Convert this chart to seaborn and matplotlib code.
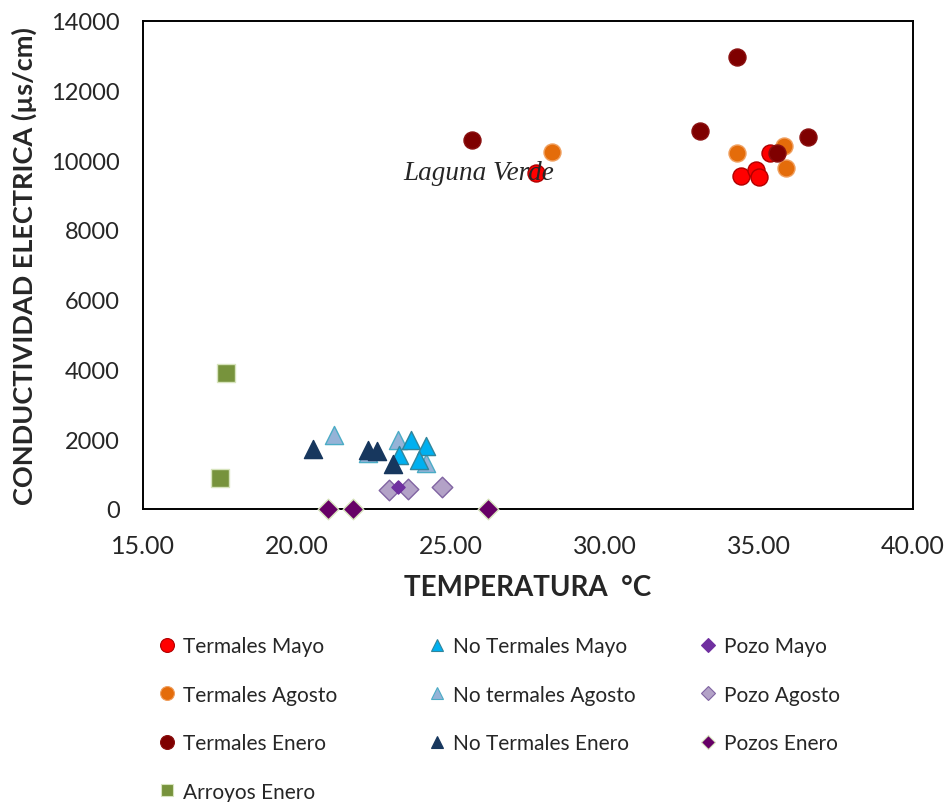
import matplotlib
matplotlib.use("Agg")
import matplotlib.pyplot as plt
from matplotlib.lines import Line2D
import seaborn as sns
import pandas as pd

# ---- data ----
termales_mayo_t = [27.77, 35.37, 34.40, 34.89, 35.00]
termales_mayo_c = [9630, 10200, 9560, 9710, 9510]

termales_agosto_t = [28.27, 34.29, 35.80, 35.89]
termales_agosto_c = [10240, 10210, 10420, 9770]

termales_enero_t = [25.68, 34.29, 33.08, 36.59, 35.58]
termales_enero_c = [10580, 12950, 10850, 10660, 10210]

arroyos_enero_t = [17.68, 17.49]
arroyos_enero_c = [3900, 890]

no_termales_mayo_t = [23.71, 24.18, 23.31, 23.96]
no_termales_mayo_c = [1980, 1815, 1560, 1400]

no_termales_agosto_t = [21.18, 22.31, 23.28, 24.18]
no_termales_agosto_c = [2110, 1600, 1980, 1330]

no_termales_enero_t = [20.50, 22.31, 22.60, 23.10]
no_termales_enero_c = [1710, 1700, 1670, 1290]

pozo_mayo_t = [23.28]
pozo_mayo_c = [620]

pozo_agosto_t = [22.99, 23.61, 24.69]
pozo_agosto_c = [550, 575, 620]

pozos_enero_t = [21.00, 21.80, 26.21]
pozos_enero_c = [0, 0, 0]

x_ticks = [15, 20, 25, 30, 35, 40]
y_ticks = [0, 2000, 4000, 6000, 8000, 10000, 12000, 14000]

# ---- styles ----
series = [
    ("Termales Mayo", termales_mayo_t, termales_mayo_c, "o", "#FF0000", "#B00000", 150),
    ("Termales Agosto", termales_agosto_t, termales_agosto_c, "o", "#E46C0A", "#F0A060", 150),
    ("Termales Enero", termales_enero_t, termales_enero_c, "o", "#7F0000", "#8A1010", 150),
    ("Arroyos Enero", arroyos_enero_t, arroyos_enero_c, "s", "#77933C", "#D7E4BD", 150),
    ("No Termales Mayo", no_termales_mayo_t, no_termales_mayo_c, "^", "#00B0F0", "#31859C", 170),
    ("No termales Agosto", no_termales_agosto_t, no_termales_agosto_c, "^", "#95B3D7", "#4BACC6", 170),
    ("No Termales Enero", no_termales_enero_t, no_termales_enero_c, "^", "#17375E", "#17375E", 170),
    ("Pozo Mayo", pozo_mayo_t, pozo_mayo_c, "D", "#7030A0", "#7030A0", 45),
    ("Pozo Agosto", pozo_agosto_t, pozo_agosto_c, "D", "#B3A2C7", "#8064A2", 110),
    ("Pozos Enero", pozos_enero_t, pozos_enero_c, "D", "#660066", "#D7E4BD", 110),
]
legend_msize = {"o": 10, "s": 9, "^": 9, "D": 7.5}

sns.set_style("white")
plt.rcParams["font.family"] = ["Lato", "DejaVu Sans"]

fig = plt.figure(figsize=(9.5, 8.03), dpi=100)
ax = fig.add_axes([0.1508, 0.3649, 0.8102, 0.6081])

draw_order = [0, 1, 2, 3, 5, 4, 6, 8, 7, 9]
for i in draw_order:
    name, t, c, mk, fc, ec, s = series[i]
    df = pd.DataFrame({"t": t, "c": c})
    sns.scatterplot(data=df, x="t", y="c", marker=mk, color=fc, edgecolor=ec,
                    linewidth=1.0, s=s, ax=ax, legend=False,
                    clip_on=False, zorder=3)

ax.set_xlim(15, 40)
ax.set_ylim(0, 14000)
ax.set_xticks(x_ticks)
ax.set_xticklabels([f"{v:.2f}" for v in x_ticks])
ax.set_yticks(y_ticks)
ax.set_yticklabels([str(v) for v in y_ticks])
ax.tick_params(axis="x", direction="in", length=8, width=1.3, color="black",
               labelsize=18, pad=18, top=False)
ax.tick_params(axis="y", length=0, labelsize=17, pad=17)
for sp in ax.spines.values():
    sp.set_color("black")
    sp.set_linewidth(1.4)
    sp.set_visible(True)

ax.set_xlabel("TEMPERATURA  °C", fontsize=20, fontweight="bold", labelpad=12)
ax.set_ylabel("CONDUCTIVIDAD ELECTRICA (µs/cm)", fontsize=19.5, fontweight="bold", labelpad=10)

ax.text(23.46, 9660, "Laguna Verde", fontsize=19.5, style="italic",
        family=["Liberation Serif", "DejaVu Serif"], ha="left", va="center", zorder=5)


def handle(mk, fc, ec):
    return Line2D([], [], linestyle="none", marker=mk, markersize=legend_msize[mk],
                  markerfacecolor=fc, markeredgecolor=ec, markeredgewidth=0.8)


columns = [[0, 1, 2, 3], [4, 5, 6], [7, 8, 9]]
col_x = [0.1648, 0.449, 0.7343]
for cols, x0 in zip(columns, col_x):
    hs = [handle(series[i][3], series[i][4], series[i][5]) for i in cols]
    ls = [series[i][0] for i in cols]
    fig.legend(hs, ls, loc="upper left", bbox_to_anchor=(x0, 0.2067),
               frameon=False, fontsize=15, labelspacing=1.37,
               handletextpad=0.25, handlelength=1.0, borderaxespad=0, borderpad=0)

fig.savefig("out.png", dpi=100)
